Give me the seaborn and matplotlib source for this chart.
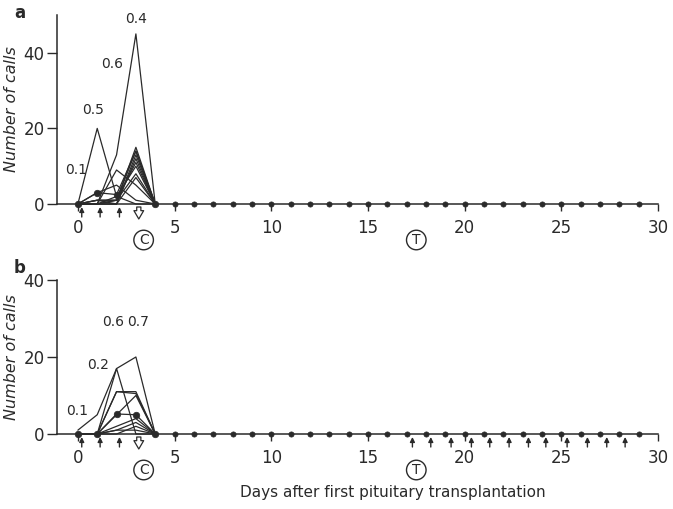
import matplotlib
matplotlib.use("Agg")
import matplotlib.pyplot as plt
import matplotlib.transforms as mtransforms
import seaborn as sns
import pandas as pd
import numpy as np

sns.set_theme(style="ticks")
plt.rcParams['font.family'] = ['DejaVu Sans']

days = [0, 1, 2, 3, 4]

# Panel a: individual animal call counts, days 0-4
a_series = {
    "a1": [0, 20, 2, 0, 0],
    "a2": [0, 0, 13, 45, 0],
    "a3": [0, 0, 9, 5, 0],
    "a4": [0, 3, 5, 1, 0],
    "a5": [0, 1, 1, 15, 0],
    "a6": [0, 0, 1, 14, 0],
    "a7": [0, 1, 0, 13, 0],
    "a8": [0, 0, 0, 12, 0],
    "a9": [0, 1, 1, 11, 0],
    "a10": [0, 0, 2, 10, 0],
    "a11": [0, 0, 1, 8, 0],
    "a12": [0, 0, 0, 7, 0],
    "a13": [0, 3, 2.5, 14, 0],
}
a_mean_days = [0, 1, 2, 4]
a_mean_vals = [0, 3, 2.5, 0]

# Panel b
b_series = {
    "b1": [1, 5, 17, 20, 0],
    "b2": [0, 0, 17, 0, 0],
    "b3": [0, 0, 11, 11, 0],
    "b4": [0, 0, 11, 10.5, 0],
    "b5": [0, 0, 5, 10, 0],
    "b6": [0, 0, 5.2, 5, 0],
    "b7": [0, 0, 2, 4, 0],
    "b8": [0, 0, 1, 3, 0],
    "b9": [0, 0, 0, 2, 0],
    "b10": [0, 0, 1, 1, 0],
}
b_mean_days = [0, 1, 2, 3, 4]
b_mean_vals = [0, 0, 5.2, 5, 0]

zero_days = list(range(5, 30))

# Labels
a_labels = [("0.4", 3.0, 49), ("0.6", 1.75, 37), ("0.5", 0.8, 25), ("0.1", -0.1, 9)]
b_labels = [("0.6", 1.8, 29), ("0.7", 3.1, 29), ("0.2", 1.05, 18), ("0.1", -0.05, 6)]

# Arrows (injection days)
a_up_arrows = [0.2, 1.15, 2.15]
a_down_arrow = 3.15
b_up_arrows = [0.2, 1.15, 2.15, 17.3, 18.25, 19.3, 20.35, 21.3, 22.3, 23.3, 24.2, 25.3, 26.35, 27.35, 28.3]
b_down_arrow = 3.15

W, H = 673, 509
fig = plt.figure(figsize=(W / 100, H / 100), dpi=100)

left = 57 / W
right = 658 / W
axa = fig.add_axes([left, 1 - 204 / H, right - left, (204 - 15) / H])
axb = fig.add_axes([left, 1 - 434 / H, right - left, (434 - 280) / H])

col = "#2a2a2a"


def to_long(series):
    rows = []
    for k, v in series.items():
        for d, y in zip(days, v):
            rows.append({"animal": k, "day": d, "calls": y})
    return pd.DataFrame(rows)


def draw(ax, series, mdays, mvals, labels, ups, down, ymax, yticks, letter, letter_y, circles):
    df = to_long(series)
    sns.lineplot(data=df, x="day", y="calls", units="animal", estimator=None,
                 color=col, lw=0.9, ax=ax, legend=False, clip_on=False)
    sns.scatterplot(x=mdays, y=mvals, color=col, s=22, ax=ax, zorder=5,
                    clip_on=False, edgecolor=col, linewidth=0.5)
    sns.scatterplot(x=zero_days, y=[0] * len(zero_days), color=col, s=14, ax=ax,
                    zorder=5, clip_on=False, edgecolor=col, linewidth=0.5)
    ax.set_xlim(-1.08, 30)
    ax.set_ylim(0, ymax)
    ax.set_xticks([0, 5, 10, 15, 20, 25, 30])
    ax.set_yticks(yticks)
    ax.tick_params(axis='x', direction='out', length=5, width=1, pad=6,
                   labelsize=12, colors=col)
    ax.tick_params(axis='y', direction='out', length=7, width=1, pad=2,
                   labelsize=12, colors=col)
    for s in ["top", "right"]:
        ax.spines[s].set_visible(False)
    for s in ["left", "bottom"]:
        ax.spines[s].set_color(col)
        ax.spines[s].set_linewidth(1.1)
    ax.set_xlabel("")
    ax.set_ylabel("Number of calls", fontstyle='italic', fontsize=11.5, color=col, labelpad=3)
    ax.patch.set_alpha(0)
    for t, x, y in labels:
        ax.text(x, y, t, fontsize=10, ha='center', va='center', color=col)
    trans = mtransforms.blended_transform_factory(ax.transData, ax.transAxes)
    hfrac = 1.0 / (ax.get_position().height * H)
    for x in ups:
        ax.annotate("", xy=(x, -3 * hfrac), xytext=(x, -13 * hfrac), xycoords=trans,
                    textcoords=trans,
                    arrowprops=dict(arrowstyle="-|>", color=col, lw=1.0,
                                    mutation_scale=7, shrinkA=0, shrinkB=0),
                    annotation_clip=False)
    ax.annotate("", xy=(down, -15 * hfrac), xytext=(down, -3 * hfrac), xycoords=trans,
                textcoords=trans,
                arrowprops=dict(arrowstyle="simple,head_length=0.6,head_width=0.7,tail_width=0.3",
                                fc="white", ec=col, lw=0.9, mutation_scale=10,
                                shrinkA=0, shrinkB=0),
                annotation_clip=False)
    for t, x in circles:
        ax.text(x, -36 * hfrac, t, transform=trans, ha='center', va='center',
                fontsize=10, color=col,
                bbox=dict(boxstyle='circle,pad=0.2', fc='none', ec=col, lw=1.0))
    ax.text(-3.3, letter_y, letter, fontsize=12, fontweight='bold',
            color=col, ha='left', va='center', transform=ax.transData)


draw(axa, a_series, a_mean_days, a_mean_vals, a_labels, a_up_arrows, a_down_arrow,
     50, [0, 20, 40], "a", 50.5, [("C", 3.4), ("T", 17.5)])
draw(axb, b_series, b_mean_days, b_mean_vals, b_labels, b_up_arrows, b_down_arrow,
     40, [0, 20, 40], "b", 43, [("C", 3.4), ("T", 17.5)])

fig.text(393 / W, 1 - 492 / H, "Days after first pituitary transplantation",
         ha='center', va='center', fontsize=11, color=col)

fig.savefig("out.png", dpi=100, facecolor="white")
